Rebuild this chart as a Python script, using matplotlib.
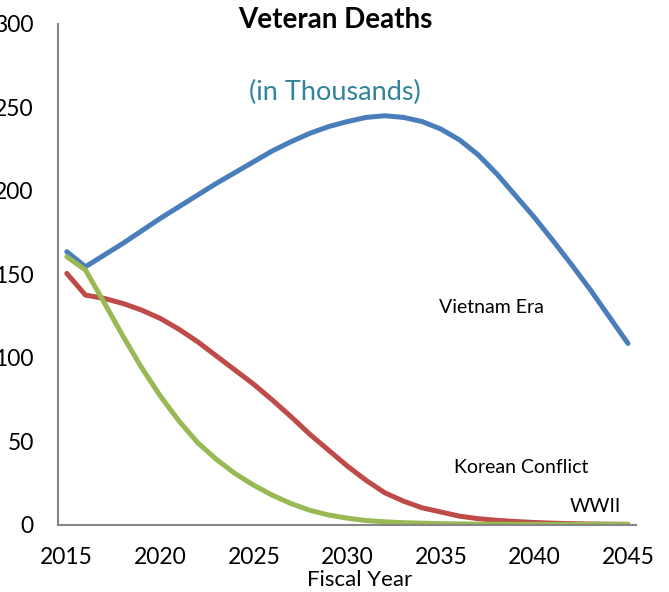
"""
plot.py - Veteran Deaths (in Thousands) by fiscal year, 2015-2045.
"""

import matplotlib
matplotlib.use("Agg")
import matplotlib.pyplot as plt

plt.rcParams["font.family"] = ["Lato", "DejaVu Sans"]

years = list(range(2015, 2046))

vietnam_era = [
    163.5, 154.5, 161.5, 168.5, 176.0, 183.5, 190.5, 197.5, 204.5, 211.0,
    217.5, 224.0, 229.5, 234.5, 238.5, 241.5, 244.0, 245.0, 244.0, 241.5,
    237.0, 230.5, 221.5, 210.0, 197.0, 184.0, 170.0, 155.5, 140.5, 124.5,
    108.5,
]
korean_conflict = [
    150.5, 137.5, 135.5, 132.5, 128.5, 123.5, 117.0, 109.5, 101.0, 92.5,
    84.0, 74.5, 64.5, 54.0, 44.5, 35.0, 26.5, 19.0, 14.0, 10.0,
    7.5, 5.0, 3.5, 2.5, 1.8, 1.2, 0.8, 0.5, 0.3, 0.2,
    0.1,
]
wwii = [
    160.5, 152.5, 133.0, 113.0, 94.0, 77.0, 62.0, 49.0, 39.0, 30.5,
    23.5, 17.5, 12.5, 8.5, 5.7, 3.8, 2.4, 1.6, 1.1, 0.8,
    0.5, 0.35, 0.25, 0.2, 0.15, 0.1, 0.08, 0.06, 0.05, 0.05,
    0.05,
]

x_ticks = [2015, 2020, 2025, 2030, 2035, 2040, 2045]
y_ticks = [0, 50, 100, 150, 200, 250, 300]

fig = plt.figure(figsize=(6.69, 5.92), dpi=100)
ax = fig.add_axes([0.0867, 0.114, 0.864, 0.8455])

ax.plot(years, vietnam_era, color="#4A7EBB", lw=3.6, solid_capstyle="round")
ax.plot(years, korean_conflict, color="#BE4B48", lw=3.6, solid_capstyle="round")
ax.plot(years, wwii, color="#98B954", lw=3.6, solid_capstyle="round")

ax.set_xlim(2014.53, 2045.43)
ax.set_ylim(0, 300)
ax.set_xticks(x_ticks)
ax.set_yticks(y_ticks)
ax.tick_params(axis="both", length=0, labelsize=16.5, colors="black")
ax.tick_params(axis="y", pad=17.5)
ax.tick_params(axis="x", pad=16.5)

for side in ("top", "right"):
    ax.spines[side].set_visible(False)
for side in ("left", "bottom"):
    ax.spines[side].set_color("#868686")
    ax.spines[side].set_linewidth(1.5)

fig.text(0.501, 0.966, "Veteran Deaths", ha="center", va="center",
         fontsize=20, fontweight="bold")
fig.text(0.501, 0.843, "(in Thousands)", ha="center", va="center",
         fontsize=19.5, color="#31849B")
fig.text(0.538, 0.021, "Fiscal Year", ha="center", va="center", fontsize=16)

ax.text(2037.7, 130, "Vietnam Era", ha="center", va="center", fontsize=14)
ax.text(2039.3, 34, "Korean Conflict", ha="center", va="center", fontsize=14)
ax.text(2043.25, 11, "WWII", ha="center", va="center", fontsize=14)

fig.savefig("out.png", dpi=100)
